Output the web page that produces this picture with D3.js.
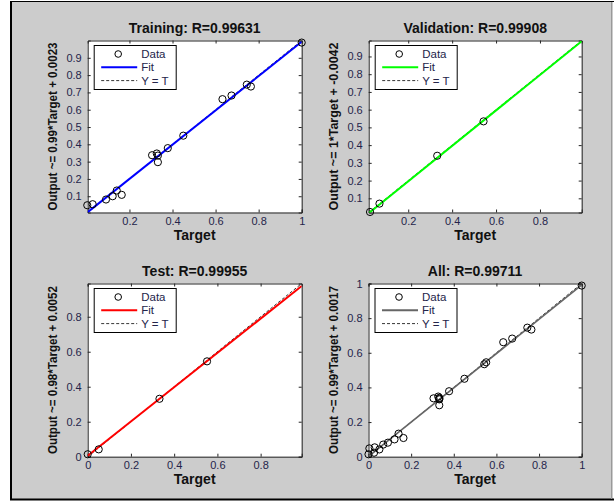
<!DOCTYPE html>
<html><head><meta charset="utf-8">
<script src="https://cdn.jsdelivr.net/npm/d3@7"></script>
<style>
html,body{margin:0;padding:0;background:#fff;}
svg text{font-family:Arial,"Liberation Sans",sans-serif;}
</style></head>
<body>
<svg id="chart" width="614" height="504"></svg>
<script>
// ---- data ----
const panelTitles = ["Training: R=0.99631","Validation: R=0.99908","Test: R=0.99955","All: R=0.99711"];
const fitSlope = [0.99, 1, 0.98, 0.99];
const fitIntercept = [0.0023, -0.0042, 0.0052, 0.0017];
const yLabels = ["Output ~= 0.99*Target + 0.0023","Output ~= 1*Target + -0.0042","Output ~= 0.98*Target + 0.0052","Output ~= 0.99*Target + 0.0017"];
const fitColors = ["#0000ff","#00ff00","#ff0000","#666666"];

const trainTarget = [0.004,0.029,0.091,0.122,0.141,0.164,0.305,0.327,0.332,0.332,0.378,0.450,0.632,0.674,0.745,0.764,1.000];
const trainOutput = [0.048,0.054,0.081,0.100,0.133,0.108,0.337,0.347,0.335,0.297,0.378,0.450,0.661,0.682,0.745,0.734,0.988];
const valTarget = [0.026,0.069,0.332,0.543];
const valOutput = [0.023,0.070,0.340,0.534];
const testTarget = [0.000,0.051,0.332,0.552];
const testOutput = [0.014,0.042,0.331,0.545];
const allTarget = trainTarget.concat(valTarget, testTarget);
const allOutput = trainOutput.concat(valOutput, testOutput);

const axisLimits = [[0.006,1],[0.02,0.99],[0,0.99],[0,1]];
const xTicks = [[0.2,0.4,0.6,0.8,1],[0.2,0.4,0.6,0.8],[0,0.2,0.4,0.6,0.8],[0,0.2,0.4,0.6,0.8,1]];
const yTicks = [[0.1,0.2,0.3,0.4,0.5,0.6,0.7,0.8,0.9],[0.1,0.2,0.3,0.4,0.5,0.6,0.7,0.8,0.9],[0,0.2,0.4,0.6,0.8],[0,0.2,0.4,0.6,0.8,1]];
const legendLabels = ["Data","Fit","Y = T"];

const panelTargets = [trainTarget, valTarget, testTarget, allTarget];
const panelOutputs = [trainOutput, valOutput, testOutput, allOutput];

// ---- layout ----
const svg = d3.select("#chart");
svg.append("rect").attr("x",0).attr("y",0).attr("width",614).attr("height",504).attr("fill","#ffffff");
svg.append("rect").attr("x",11).attr("y",2).attr("width",602).attr("height",497).attr("fill","#cccccc");
svg.append("line").attr("x1",11).attr("x2",11).attr("y1",1).attr("y2",500).attr("stroke","#000").attr("stroke-width",2);
svg.append("line").attr("x1",10).attr("x2",614).attr("y1",1.5).attr("y2",1.5).attr("stroke","#000").attr("stroke-width",1.2);
svg.append("line").attr("x1",10).attr("x2",614).attr("y1",499.5).attr("y2",499.5).attr("stroke","#000").attr("stroke-width",2.2);
svg.append("line").attr("x1",611.5).attr("x2",611.5).attr("y1",2).attr("y2",499).attr("stroke","#999").attr("stroke-width",1);

const boxes = [
  {x0:87.7, x1:301.7, y0:40.5, y1:212.5},
  {x0:368.7, x1:581.7, y0:40.5, y1:212.5},
  {x0:87.7, x1:301.7, y0:283.5, y1:456.7},
  {x0:368.5, x1:581.7, y0:283.5, y1:456.7}
];
const tickColor = "#24244a";
const fmt = v => v === 0 ? "0" : (v === 1 ? "1" : d3.format(".1f")(v));

boxes.forEach((b, i) => {
  const [lo, hi] = axisLimits[i];
  const xs = d3.scaleLinear().domain([lo, hi]).range([b.x0, b.x1]);
  const ys = d3.scaleLinear().domain([lo, hi]).range([b.y1, b.y0]);
  const g = svg.append("g");
  const clipId = "clip" + i;
  svg.append("clipPath").attr("id", clipId).append("rect")
    .attr("x", b.x0).attr("y", b.y0).attr("width", b.x1 - b.x0).attr("height", b.y1 - b.y0);

  g.append("rect").attr("x", b.x0).attr("y", b.y0).attr("width", b.x1 - b.x0).attr("height", b.y1 - b.y0)
    .attr("fill", "#ffffff");

  // axes with inward ticks
  const ax = [
    g.append("g").attr("transform", `translate(0,${b.y1})`).call(d3.axisBottom(xs).tickValues(xTicks[i]).tickSize(-3).tickPadding(5).tickFormat(fmt)),
    g.append("g").attr("transform", `translate(0,${b.y0})`).call(d3.axisTop(xs).tickValues(xTicks[i]).tickSize(-3).tickFormat("")),
    g.append("g").attr("transform", `translate(${b.x0},0)`).call(d3.axisLeft(ys).tickValues(yTicks[i]).tickSize(-3).tickPadding(6).tickFormat(fmt)),
    g.append("g").attr("transform", `translate(${b.x1},0)`).call(d3.axisRight(ys).tickValues(yTicks[i]).tickSize(-3).tickFormat(""))
  ];
  ax.forEach(a => {
    a.select(".domain").attr("stroke", "#262626").attr("stroke-width", 1);
    a.selectAll(".tick line").attr("stroke", "#262626");
    a.selectAll(".tick text").attr("fill", tickColor).attr("font-size", 11).attr("font-family", "Arial, 'Liberation Sans', sans-serif");
  });

  const plot = g.append("g").attr("clip-path", `url(#${clipId})`);
  // Y = T dashed
  plot.append("line").attr("x1", xs(lo)).attr("y1", ys(lo)).attr("x2", xs(hi)).attr("y2", ys(hi))
    .attr("stroke", "#000").attr("stroke-width", 0.8).attr("stroke-dasharray", "3,2");
  // fit line
  const fitLine = d3.line().x(d => xs(d)).y(d => ys(fitSlope[i] * d + fitIntercept[i]));
  plot.append("path").datum([lo, hi]).attr("d", fitLine).attr("fill", "none")
    .attr("stroke", fitColors[i]).attr("stroke-width", i === 3 ? 1.6 : 2);
  // data circles
  const pts = panelTargets[i].map((t, k) => [t, panelOutputs[i][k]]);
  g.append("g").selectAll("circle").data(pts).join("circle")
    .attr("cx", d => xs(d[0])).attr("cy", d => ys(d[1])).attr("r", 3.6)
    .attr("fill", "none").attr("stroke", "#000").attr("stroke-width", 1);

  // title
  g.append("text").attr("x", (b.x0 + b.x1) / 2).attr("y", b.y0 - 8).attr("text-anchor", "middle")
    .attr("font-size", 14).attr("font-weight", "bold").attr("fill", "#111").text(panelTitles[i]);
  // x label
  g.append("text").attr("x", (b.x0 + b.x1) / 2).attr("y", b.y1 + 27).attr("text-anchor", "middle")
    .attr("font-size", 14).attr("font-weight", "bold").attr("fill", "#111").text("Target");
  // y label
  const ylx = b.x0 - 30.5;
  g.append("text").attr("transform", `translate(${ylx},${(b.y0 + b.y1) / 2}) rotate(-90)`)
    .attr("text-anchor", "middle").attr("font-size", 13).attr("font-weight", "bold").attr("fill", "#111")
    .attr("textLength", 168).attr("lengthAdjust", "spacingAndGlyphs")
    .text(yLabels[i]);

  // legend
  const lx = b.x0 + 6.5, ly = b.y0 + 5, lw = 82, lh = 44;
  const lg = g.append("g");
  lg.append("rect").attr("x", lx).attr("y", ly).attr("width", lw).attr("height", lh)
    .attr("fill", "#fff").attr("stroke", "#000").attr("stroke-width", 1);
  legendLabels.forEach((lab, k) => {
    const cy = ly + 8.5 + k * 13.3;
    if (k === 0) {
      lg.append("circle").attr("cx", lx + 24).attr("cy", cy).attr("r", 3.3)
        .attr("fill", "none").attr("stroke", "#000").attr("stroke-width", 1);
    } else if (k === 1) {
      lg.append("line").attr("x1", lx + 7).attr("x2", lx + 43).attr("y1", cy).attr("y2", cy)
        .attr("stroke", fitColors[i]).attr("stroke-width", 2);
    } else {
      lg.append("line").attr("x1", lx + 7).attr("x2", lx + 43).attr("y1", cy).attr("y2", cy)
        .attr("stroke", "#000").attr("stroke-width", 0.8).attr("stroke-dasharray", "3,2");
    }
    lg.append("text").attr("x", lx + 47).attr("y", cy + 4).attr("font-size", 11.5)
      .attr("fill", tickColor).text(lab);
  });
});
</script>
</body></html>
